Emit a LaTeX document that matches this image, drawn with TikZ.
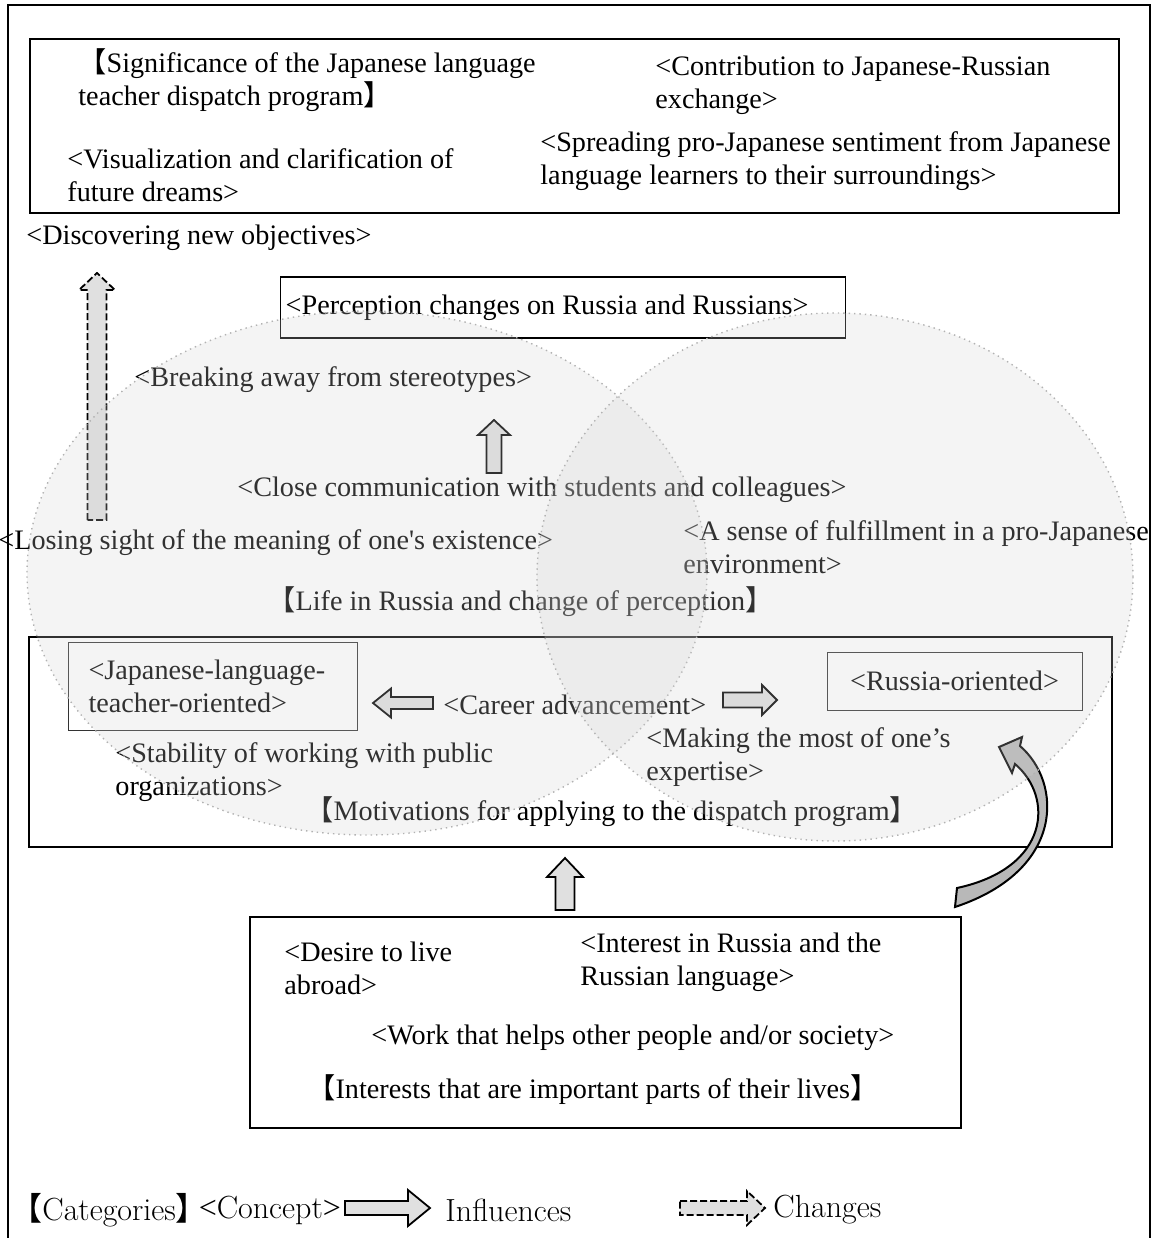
\documentclass[tikz,border=0pt]{standalone}
\usepackage{fontspec}
\usetikzlibrary{positioning}
\usetikzlibrary{fit}
\newfontfamily\tnr{Liberation Serif}
\newfontfamily\cjk{Noto Sans CJK JP}
\newcommand{\lbr}{{\cjk 【}}
\newcommand{\rbr}{{\cjk 】}}
\newcommand{\fontmain}{\tnr\fontsize{14.1}{16.5}\selectfont}
\newcommand{\blockarrow}[7][]{%
	\draw[#1,shift={(#2)},rotate=#3]
		(0,-#5) -- ({#4-#7},-#5) -- ({#4-#7},-#6) -- (#4,0) --
		({#4-#7},#6) -- ({#4-#7},#5) -- (0,#5) -- cycle;}
\tikzset{catbox/.style={draw=#1,line width=1pt,inner sep=0pt},catbox/.default=black}
\tikzset{conceptbox/.style={draw=#1,line width=0.5pt,font=\fontmain},conceptbox/.default=black!80}
\tikzset{concept/.style={inner sep=0pt,anchor=west,align=left,font=\fontmain}}
\tikzset{legend/.style={inner sep=0pt,anchor=west,font=\fontsize{16}{19}\selectfont}}
\tikzset{venn/.style={draw=gray!60,dotted,line width=0.7pt,fill=black!18,fill opacity=0.24}}
\tikzset{influence/.style={draw=#1,line width=0.9pt,fill=black!12},influence/.default=black}
\tikzset{change/.style={draw=black,line width=0.9pt,dash pattern=on 3.5pt off 1.5pt,fill=black!12}}

\begin{document}
\begin{tikzpicture}[x=0.5pt,y=-0.5pt]
	\useasboundingbox (0,0) rectangle (1161,1238);
	\draw[line width=1pt] (8,1238) -- (8,5) -- (1150,5) -- (1150,1238);

	% significance
	\node[catbox,line width=1.4pt,fit={(30,39) (1119,213)}] (sigbox) {};
	\node[concept] (sig) at (78,80.5) {\lbr Significance of the Japanese language\\teacher dispatch program\rbr};
	\node[concept] (contrib) at (655,85) {<Contribution to Japanese-Russian\\exchange>};
	\node[concept] (spread) at (540,161) {<Spreading pro-Japanese sentiment from Japanese\\language learners to their surroundings>};
	\node[concept] (visual) at (67,175) {<Visualization and clarification of\\future dreams>};
	\node[concept] (discover) at (26,238) {<Discovering new objectives>};

	% life in Russia
	\node[draw,line width=0.7pt,anchor=west,inner xsep=2.5pt,minimum height=30.5pt,
		text width=277.5pt,align=flush left,font=\fontmain] (percep) at (280,307.5)
		{<Perception changes on Russia and Russians>};
	\node[concept] (breakaway) at (134,380) {<Breaking away from stereotypes>};
	\node[concept] (close) at (237,490) {<Close communication with students and colleagues>};
	\node[concept] (losing) at (-2,543) {<Losing sight of the meaning of one\textquotesingle s existence>};
	\node[concept] (fulfil) at (683,547.5) {<A sense of fulfillment in a pro-Japanese\\environment>};
	\node[concept] (life) at (267,602) {\lbr Life in Russia and change of perception\rbr};
	\coordinate (dashtail) at (97,520);
	\blockarrow[change]{dashtail}{90}{247}{9.5}{18}{17}
	\coordinate (closetail) at (494,473);
	\blockarrow[influence]{closetail}{90}{53}{7.5}{16}{15}

	% motivations
	\node[catbox,fit={(29,637) (1112,847)}] (motivbox) {};
	\node[conceptbox,anchor=north west,inner xsep=10pt,text width=124.5pt,
		minimum height=44pt,align=flush left] (jltbox) at (68,642) {<Japanese-language-\\teacher-oriented>};
	\node[conceptbox,minimum width=127.5pt,minimum height=29pt] (rusbox) at (954.5,681) {<Russia-oriented>};
	\node[concept] (career) at (443,705) {<Career advancement>};
	\coordinate (lefttail) at (433,703);
	\blockarrow[influence]{lefttail}{180}{60}{6}{14.5}{18}
	\coordinate (righttail) at (723,700);
	\blockarrow[influence]{righttail}{0}{54}{7.5}{15}{15}
	\node[concept] (stability) at (115,772.5) {<Stability of working with public\\organizations>};
	\node[concept] (making) at (646,757.5) {<Making the most of one’s\\expertise>};
	\node[concept] (motiv) at (305,812) {\lbr Motivations for applying to the dispatch program\rbr};

	% interests
	\node[catbox,fit={(250,917) (961,1128)}] (intbox) {};
	\coordinate (inttail) at (565,910);
	\blockarrow[influence]{inttail}{90}{52}{9.5}{18}{19}
	\node[concept] (desire) at (284,968.5) {<Desire to live\\abroad>};
	\node[concept] (interest) at (580,962.5) {<Interest in Russia and the\\Russian language>};
	\node[concept] (work) at (371,1038) {<Work that helps other people and/or society>};
	\node[concept] (interests) at (307,1090) {\lbr Interests that are important parts of their lives\rbr};
	\draw[influence,fill=black!28,line width=1pt]
		(1020,746) .. controls (1062,782) and (1066,870) .. (955,907)
		-- (957,888) .. controls (1050,868) and (1054,797) .. (1015,764)
		-- (1012,773) -- (999,747) -- (1022,737) -- cycle;

	% venn
	\path[venn] (367,573) ellipse [x radius=340,y radius=262];
	\path[venn] (835,577) ellipse [x radius=298,y radius=264];

	% legend
	\node[legend] (catlg) at (10,1210) {\lbr Categories\rbr};
	\node[legend,right=-5pt of catlg] (conlg) {{\tnr<}Concept{\tnr>}};
	\coordinate (inftail) at (345,1208);
	\blockarrow[influence]{inftail}{0}{85}{7}{18}{22}
	\node[legend] (inflg) at (445,1210) {Influences};
	\coordinate (chgtail) at (680,1208);
	\blockarrow[change]{chgtail}{0}{85}{7}{17}{18}
	\node[legend] (chglg) at (773,1210) {Changes};
\end{tikzpicture}
\end{document}
